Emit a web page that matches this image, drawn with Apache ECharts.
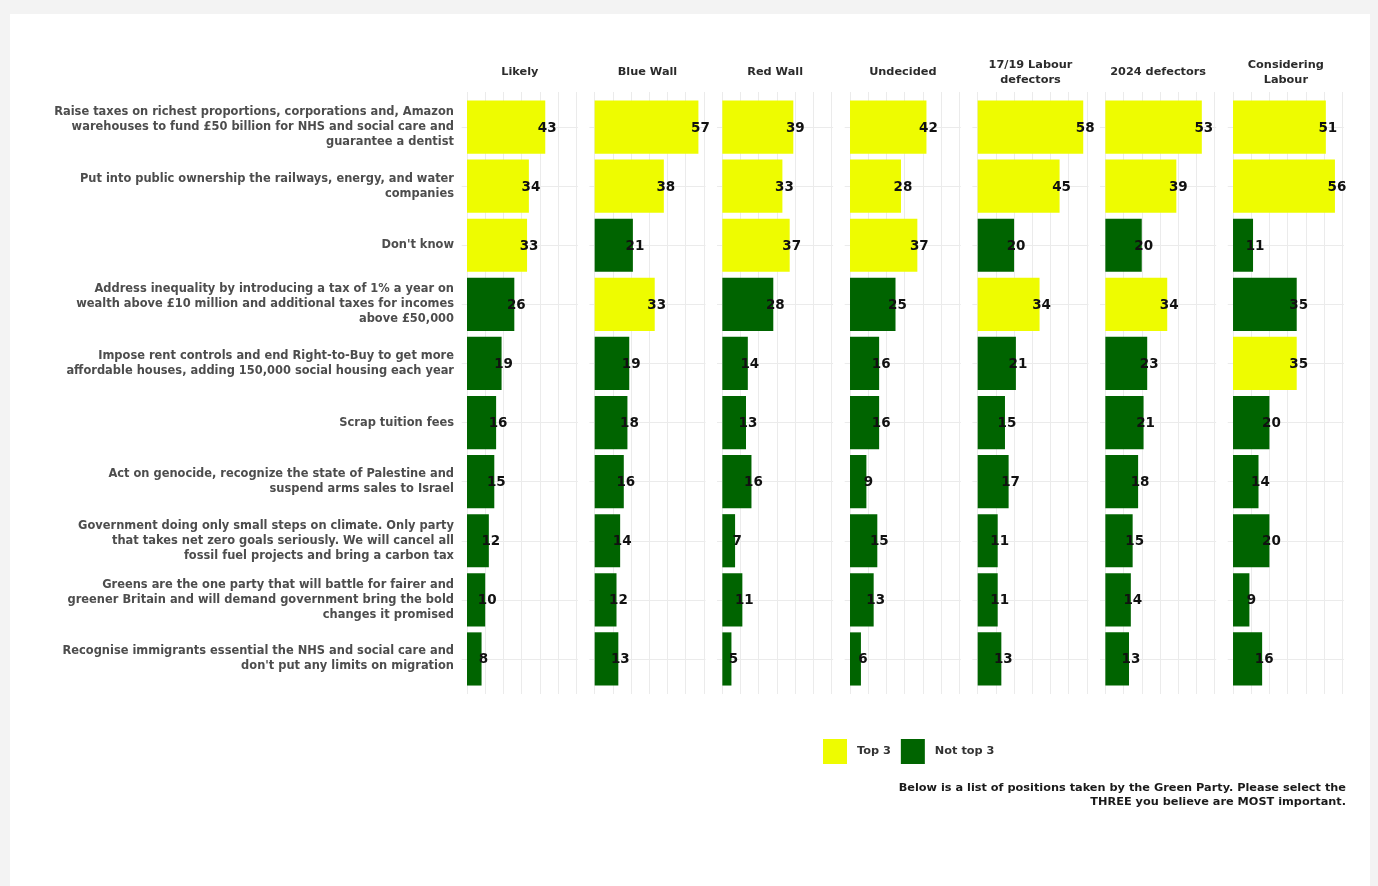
<!DOCTYPE html>
<html>
<head>
<meta charset="utf-8">
<script src="https://cdn.jsdelivr.net/npm/echarts@6/dist/echarts.min.js"></script>
<style>
html,body{margin:0;padding:0;background:#f3f3f3;}
#chart{width:1378px;height:886px;}
</style>
</head>
<body>
<div id="chart"></div>
<script>
const categories = [
  "Raise taxes on richest proportions, corporations and, Amazon\nwarehouses to fund £50 billion for NHS and social care and\nguarantee a dentist",
  "Put into public ownership the railways, energy, and water\ncompanies",
  "Don't know",
  "Address inequality by introducing a tax of 1% a year on\nwealth above £10 million and additional taxes for incomes\nabove £50,000",
  "Impose rent controls and end Right-to-Buy to get more\naffordable houses, adding 150,000 social housing each year",
  "Scrap tuition fees",
  "Act on genocide, recognize the state of Palestine and\nsuspend arms sales to Israel",
  "Government doing only small steps on climate. Only party\nthat takes net zero goals seriously. We will cancel all\nfossil fuel projects and bring a carbon tax",
  "Greens are the one party that will battle for fairer and\ngreener Britain and will demand government bring the bold\nchanges it promised",
  "Recognise immigrants essential the NHS and social care and\ndon't put any limits on migration"
];
const groups = ["Likely", "Blue Wall", "Red Wall", "Undecided", "17/19 Labour\ndefectors", "2024 defectors", "Considering\nLabour"];

const likely        = [43, 34, 33, 26, 19, 16, 15, 12, 10, 8];
const blueWall      = [57, 38, 21, 33, 19, 18, 16, 14, 12, 13];
const redWall       = [39, 33, 37, 28, 14, 13, 16, 7, 11, 5];
const undecided     = [42, 28, 37, 25, 16, 16, 9, 15, 13, 6];
const labour1719    = [58, 45, 20, 34, 21, 15, 17, 11, 11, 13];
const defectors2024 = [53, 39, 20, 34, 23, 21, 18, 15, 14, 13];
const considering   = [51, 56, 11, 35, 35, 20, 14, 20, 9, 16];

const top3Likely        = [1, 1, 1, 0, 0, 0, 0, 0, 0, 0];
const top3BlueWall      = [1, 1, 0, 1, 0, 0, 0, 0, 0, 0];
const top3RedWall       = [1, 1, 1, 0, 0, 0, 0, 0, 0, 0];
const top3Undecided     = [1, 1, 1, 0, 0, 0, 0, 0, 0, 0];
const top3Labour1719    = [1, 1, 0, 1, 0, 0, 0, 0, 0, 0];
const top3Defectors2024 = [1, 1, 0, 1, 0, 0, 0, 0, 0, 0];
const top3Considering   = [1, 1, 0, 0, 1, 0, 0, 0, 0, 0];

const legendNames = ["Top 3", "Not top 3"];
const caption = "Below is a list of positions taken by the Green Party. Please select the\nTHREE you believe are MOST important.";

const values = [likely, blueWall, redWall, undecided, labour1719, defectors2024, considering];
const flags = [top3Likely, top3BlueWall, top3RedWall, top3Undecided, top3Labour1719, top3Defectors2024, top3Considering];

const YELLOW = '#eefc00';
const GREEN = '#006400';
const GRIDC = '#ebebeb';
const FONT = '"DejaVu Sans", Verdana, sans-serif';

const zero0 = 467, pitch = 127.67, pxU = 1.82;
const w60 = 60 * pxU;
const rowTop = 97.5, rowPitch = 59.1;

const grid = [], xAxis = [], yAxis = [], series = [], graphic = [];
graphic.push({type:'rect', shape:{x:10, y:14, width:1360, height:880}, style:{fill:'#ffffff'}, z:-10, silent:true});

for (let i = 0; i < groups.length; i++) {
  const left = zero0 + i * pitch;
  const gA = grid.length;
  grid.push({left: left, top: rowTop, width: w60, height: rowPitch * 10, containLabel: false});
  const gV = grid.length;
  grid.push({left: left, top: 92, width: w60, height: 602, containLabel: false});
  const gH = grid.length;
  grid.push({left: left - 5.3, top: rowTop + rowPitch / 2, width: 63.8 * pxU, height: rowPitch * 9, containLabel: false});

  const xA = xAxis.length;
  xAxis.push({gridIndex: gA, type: 'value', min: 0, max: 60, show: false});
  const yA = yAxis.length;
  yAxis.push({gridIndex: gA, type: 'category', data: categories, inverse: true,
    axisLine: {show: false}, axisTick: {show: false}, splitLine: {show: false},
    axisLabel: {show: i === 0, margin: 13, fontSize: 11.45, fontWeight: 'bold', color: '#4d4d4d', lineHeight: 15, fontFamily: FONT, align: 'right', padding: [7, 0, 0, 0]}
  });
  xAxis.push({gridIndex: gV, type: 'value', min: 0, max: 60, interval: 10,
    axisLine: {show: false}, axisTick: {show: false}, axisLabel: {show: false},
    splitLine: {show: true, lineStyle: {color: GRIDC, width: 1}}});
  yAxis.push({gridIndex: gV, type: 'value', min: 0, max: 1, show: false});
  xAxis.push({gridIndex: gH, type: 'value', min: 0, max: 1, show: false});
  yAxis.push({gridIndex: gH, type: 'value', min: 0, max: 9, interval: 1, inverse: true,
    axisLine: {show: false}, axisTick: {show: false}, axisLabel: {show: false},
    splitLine: {show: true, lineStyle: {color: GRIDC, width: 1}}});

  const vals = values[i], fl = flags[i];
  const mk = (want, name, color) => ({
    name: name, type: 'bar', xAxisIndex: xA, yAxisIndex: yA,
    barCategoryGap: '10%', barGap: '-100%',
    itemStyle: {color: color},
    data: vals.map((v, k) => (fl[k] === want ? v : null)),
    label: {show: true, position: ['100%', '50%'], align: 'center', verticalAlign: 'middle', offset: [2, 1],
      color: '#111', fontSize: 13.5, fontWeight: 'bold', fontFamily: FONT},
    silent: true, animation: false
  });
  series.push(mk(1, legendNames[0], YELLOW));
  series.push(mk(0, legendNames[1], GREEN));

  graphic.push({type: 'text', x: left + 52.8, y: 72.5, silent: true,
    style: {text: groups[i], align: 'center', verticalAlign: 'middle', font: 'bold 11.3px ' + FONT, fill: '#2b2b2b', lineHeight: 15}});
}

graphic.push({type: 'text', x: 1346, y: 795.5, silent: true,
  style: {text: caption, align: 'right', verticalAlign: 'middle', font: 'bold 11.3px ' + FONT, fill: '#1a1a1a', lineHeight: 14}});

const chart = echarts.init(document.getElementById('chart'), null, {renderer: 'canvas'});
chart.setOption({
  backgroundColor: '#f3f3f3',
  animation: false,
  grid: grid, xAxis: xAxis, yAxis: yAxis, series: series, graphic: graphic,
  legend: {data: legendNames, left: 823, top: 739, padding: 0, itemWidth: 24, itemHeight: 25, itemGap: 10,
    icon: 'rect', selectedMode: false,
    textStyle: {fontSize: 11.3, fontWeight: 'bold', color: '#333', fontFamily: FONT, padding: [2, 0, 0, 5]}}
});
</script>
</body>
</html>
